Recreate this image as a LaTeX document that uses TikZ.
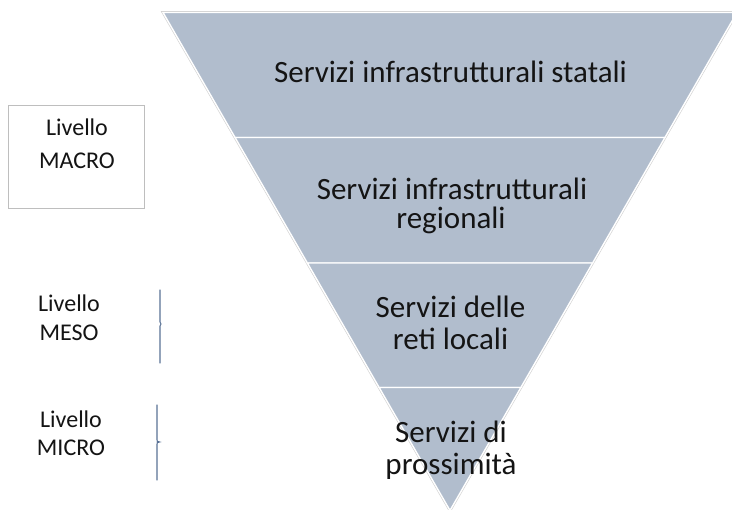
\documentclass[tikz,border=0pt]{standalone}
\usepackage{fontspec}
\setmainfont{Carlito}
\usetikzlibrary{calc}
\definecolor{bandfill}{RGB}{177,189,205}
\definecolor{txt}{RGB}{20,20,20}
\definecolor{bracecol}{RGB}{90,114,150}
\definecolor{boxgray}{RGB}{190,190,190}
\begin{document}
\begin{tikzpicture}[x=1pt,y=-1pt,
  band/.style={fill=bandfill, draw=white, line width=1.4pt, line join=miter},
  bigtxt/.style={font=\fontsize{31}{31}\selectfont, text=txt, inner sep=0pt, anchor=base},
  smalltxt/.style={font=\fontsize{24}{24}\selectfont, text=txt, inner sep=0pt, anchor=base},
  lvlbox/.style={draw=boxgray, line width=0.8pt, fill=white, inner sep=0pt},
  bracepath/.style={draw=bracecol, line width=1.1pt, line cap=round}]
\useasboundingbox (0,0) rectangle (732,510);
\clip (0,0) rectangle (732,510);
\fill[white] (0,0) rectangle (732,510);
% triangle geometry
\coordinate (TL) at (163,12.5);
\coordinate (TR) at (737,12.5);
\coordinate (AP) at (450,510.5);
\coordinate (L1) at ($(TL)!0.251!(AP)$);
\coordinate (R1) at ($(TR)!0.251!(AP)$);
\coordinate (L2) at ($(TL)!0.503!(AP)$);
\coordinate (R2) at ($(TR)!0.503!(AP)$);
\coordinate (L3) at ($(TL)!0.753!(AP)$);
\coordinate (R3) at ($(TR)!0.753!(AP)$);
% faint outer shadow
\draw[black!18, line width=2.6pt, line join=miter] (TL) -- (TR) -- (AP) -- cycle;
% bands
\path[band] (TL) -- (TR) -- (R1) -- (L1) -- cycle;
\path[band] (L1) -- (R1) -- (R2) -- (L2) -- cycle;
\path[band] (L2) -- (R2) -- (R3) -- (L3) -- cycle;
\path[band] (L3) -- (R3) -- (AP) -- cycle;
% band texts
\node[bigtxt] (t1) at (450.5,83) {Servizi infrastrutturali statali};
\node[bigtxt] (t2a) at (452,200) {Servizi infrastrutturali};
\node[bigtxt] (t2b) at (451,228.5) {regionali};
\node[bigtxt] (t3a) at (450.5,318) {Servizi delle};
\node[bigtxt] (t3b) at (450.5,350) {reti locali};
\node[bigtxt] (t4a) at (451,443) {Servizi di};
\node[bigtxt] (t4b) at (451,475) {prossimità};
% left level labels
\node[lvlbox, minimum width=136pt, minimum height=103pt] (macrobox) at (76,156.5) {};
\node[smalltxt] (m1) at (77,135.7) {Livello};
\node[smalltxt] (m2) at (77,169) {MACRO};
\node[smalltxt] (me1) at (69,311.7) {Livello};
\node[smalltxt] (me2) at (69,340.7) {MESO};
\node[smalltxt] (mi1) at (71,428) {Livello};
\node[smalltxt] (mi2) at (71,456) {MICRO};
% braces
\draw[bracepath] (160,290) -- (160,322)
  .. controls (160,323.6) .. (161,324) .. controls (160,324.4) .. (160,326)
  -- (160,363);
\draw[bracepath] (157,405) -- (157,439.5)
  .. controls (157,441.6) .. (159.5,442) .. controls (157,442.4) .. (157,444.5)
  -- (157,480);
\end{tikzpicture}
\end{document}
